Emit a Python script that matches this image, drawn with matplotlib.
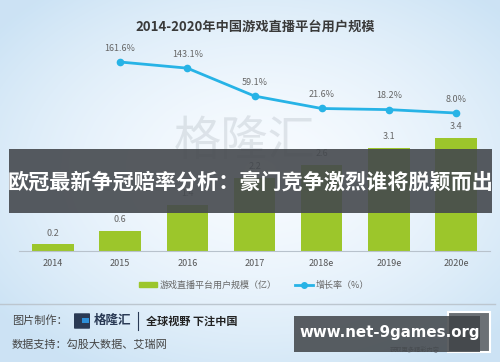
import numpy as np
import matplotlib.pyplot as plt
from matplotlib.patches import Rectangle, FancyBboxPatch
from matplotlib.lines import Line2D

plt.rcParams['font.family'] = ['Noto Sans CJK SC', 'DejaVu Sans']

# data
years = ["2014", "2015", "2016", "2017", "2018e", "2019e", "2020e"]
users = [0.2, 0.6, 1.4, 2.2, 2.6, 3.1, 3.4]
growth_years = ["2015", "2016", "2017", "2018e", "2019e", "2020e"]
growth = [161.6, 143.1, 59.1, 21.6, 18.2, 8.0]

title = "2014-2020年中国游戏直播平台用户规模"
banner = "欧冠最新争冠赔率分析：豪门竞争激烈谁将脱颖而出"

BAR_COLOR = "#9cc62b"
LINE_COLOR = "#27b3e6"
W, H = 500, 362


def fx(px):
    return px / W


def fy(py):
    return 1 - py / H


fig = plt.figure(figsize=(5, 3.62), dpi=100)

# background gradient
bg = fig.add_axes([0, 0, 1, 1], zorder=-5)
yy, xx = np.mgrid[0:H, 0:W]
d = np.sqrt(((xx - 260) / 330.0) ** 2 + ((yy - 170) / 230.0) ** 2)
d = np.clip(d, 0, 1) ** 1.6
edge = np.array([0.80, 0.89, 0.96])
center = np.array([0.97, 0.985, 1.0])
img = center[None, None, :] * (1 - d[..., None]) + edge[None, None, :] * d[..., None]
bg.imshow(img, extent=[0, W, H, 0], aspect="auto")
bg.set_xlim(0, W)
bg.set_ylim(H, 0)
bg.axis("off")

# main axes
left, right = 19.4, 489.6
base, top = 251, 40
ax = fig.add_axes([fx(left), fy(base), fx(right - left), (base - top) / H])
ax.patch.set_alpha(0)
x = np.arange(len(years))
ax.bar(x, users, width=0.62, color=BAR_COLOR, zorder=2)
for xi, v in zip(x, users):
    ax.text(xi, v + 0.2, f"{v}", ha="center", va="bottom", fontsize=6.5, color="#666666")
ax.set_xlim(-0.5, len(years) - 0.5)
ax.set_ylim(0, (base - top) / 33.2)
ax.set_xticks(x)
ax.set_xticklabels(years, fontsize=6.5, color="#555555")
ax.tick_params(axis="x", length=0, pad=6)
ax.set_yticks([])
for s in ["top", "right", "left"]:
    ax.spines[s].set_visible(False)
ax.spines["bottom"].set_color("#b8c2cc")
ax.spines["bottom"].set_linewidth(0.8)

ax2 = ax.twinx()
gx = [years.index(g) for g in growth_years]
ax2.plot(gx, growth, color=LINE_COLOR, lw=2, marker="o", ms=4.5, zorder=3)
for xi, v in zip(gx, growth):
    ax2.text(xi, v + 28, f"{v}%", ha="center", va="bottom", fontsize=6.5, color="#666666")
ax2.set_ylim(-407.6, 227.9)
ax2.set_yticks([])
for s in ["top", "right", "left", "bottom"]:
    ax2.spines[s].set_visible(False)

# legend
handles = [Rectangle((0, 0), 1, 1, color=BAR_COLOR),
           Line2D([0], [0], color=LINE_COLOR, lw=2, marker="o", ms=4)]
leg = fig.legend(handles, ["游戏直播平台用户规模（亿）", "增长率（%）"], ncol=2,
                 loc="center", bbox_to_anchor=(fx(254), fy(285)), frameon=False,
                 fontsize=6.5, handlelength=2.0, handleheight=0.6,
                 columnspacing=2.0, handletextpad=0.3)
for t in leg.get_texts():
    t.set_color("#666666")

# title
fig.text(fx(255), fy(27), title, ha="center", va="center", fontsize=9.5,
         fontweight="bold", color="#3a3a3a")

# faint watermark
fig.text(fx(245), fy(142), "格隆汇", ha="center", va="center", fontsize=34,
         color="#9aa4ad", alpha=0.25, zorder=1)

# banner overlay
fig.patches.append(Rectangle((fx(9), fy(213)), fx(483), (213 - 149) / H,
                             transform=fig.transFigure, facecolor="#45494e",
                             alpha=0.9, zorder=5))
fig.text(fx(250.5), fy(182), banner, ha="center", va="center", fontsize=15.2,
         fontweight="bold", color="white", zorder=6)

# footer
fig.add_artist(Line2D([0, fx(495)], [fy(304), fy(304)], color="#bcc6cf", lw=1,
                      transform=fig.transFigure))
fig.text(fx(12), fy(321), "图片制作：", ha="left", va="center", fontsize=8, color="#444444")
fig.patches.append(FancyBboxPatch((fx(75), fy(328)), fx(14), 14 / H,
                                  boxstyle="round,pad=0.002", transform=fig.transFigure,
                                  facecolor="#2a3a55", edgecolor="none"))
fig.patches.append(Rectangle((fx(82), fy(323)), fx(7), 5 / H, transform=fig.transFigure,
                             facecolor="#2e8fd8", edgecolor="none"))
fig.text(fx(94), fy(320), "格隆汇", ha="left", va="center", fontsize=9,
         fontweight="bold", color="#2a3a55")
fig.add_artist(Line2D([fx(138), fx(138)], [fy(312), fy(330)], color="#2a3a55", lw=0.8,
                      transform=fig.transFigure))
fig.text(fx(146), fy(321), "全球视野 下注中国", ha="left", va="center", fontsize=8,
         fontweight="bold", color="#222222")
fig.text(fx(12), fy(344), "数据支持：勾股大数据、艾瑞网", ha="left", va="center",
         fontsize=8, color="#444444")

# qr-like block and watermark box
fig.patches.append(Rectangle((fx(448), fy(352)), fx(42), 40 / H, transform=fig.transFigure,
                             facecolor="#6b7075", edgecolor="white", lw=1.5, zorder=4))
fig.text(fx(415), fy(350), "获取更多精彩内容", ha="center", va="center", fontsize=4.5,
         color="#7a8088", zorder=4)
fig.patches.append(Rectangle((fx(294), fy(352)), fx(186), 36 / H, transform=fig.transFigure,
                             facecolor="#3f4347", alpha=0.85, zorder=5))
fig.text(fx(390), fy(333), "www.net-9games.org", ha="center", va="center", fontsize=10.8,
         fontweight="bold", color="white", zorder=6, family="DejaVu Sans")

fig.savefig("out.png", dpi=100)
